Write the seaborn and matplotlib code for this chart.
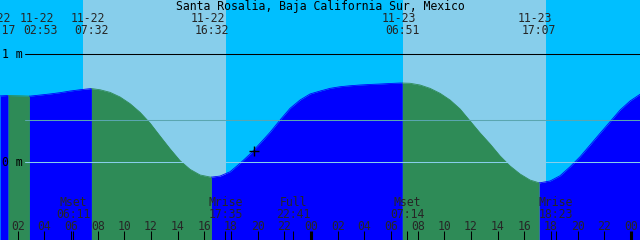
import numpy as np
import pandas as pd
import matplotlib
matplotlib.use("Agg")
import matplotlib.pyplot as plt
import matplotlib.transforms as mtransforms
import seaborn as sns

# ---------------- data (hours counted from 11-22 00:00, heights in metres) -------------
TITLE = "Santa Rosalia, Baja California Sur, Mexico"

curve_hours = [0.68, 1.43, 2.18, 2.93, 3.68, 4.43, 5.18, 5.93, 6.68, 7.43, 8.18, 8.93,
               9.68, 10.43, 11.18, 11.93, 12.68, 13.43, 14.18, 14.93, 15.68, 16.43, 17.18,
               17.93, 18.68, 19.43, 20.18, 20.93, 21.68, 22.43, 23.18, 23.93, 24.68, 25.43,
               26.18, 26.93, 27.68, 28.43, 29.18, 29.93, 30.68, 31.43, 32.18, 32.93, 33.68,
               34.43, 35.18, 35.93, 36.68, 37.43, 38.18, 38.93, 39.68, 40.43, 41.18, 41.93,
               42.68, 43.43, 44.18, 44.93, 45.68, 46.43, 47.18, 47.93, 48.68]
curve_level = [0.612, 0.615, 0.613, 0.610, 0.620, 0.630, 0.642, 0.657, 0.669, 0.679, 0.669,
               0.645, 0.602, 0.540, 0.460, 0.360, 0.240, 0.122, 0.012, -0.068, -0.120,
               -0.139, -0.130, -0.090, -0.012, 0.074, 0.173, 0.275, 0.389, 0.497, 0.574,
               0.630, 0.657, 0.682, 0.697, 0.706, 0.713, 0.718, 0.722, 0.727, 0.731, 0.729,
               0.713, 0.682, 0.636, 0.574, 0.491, 0.380, 0.269, 0.167, 0.056, -0.037,
               -0.111, -0.167, -0.192, -0.176, -0.127, -0.044, 0.049, 0.157, 0.266, 0.373,
               0.481, 0.565, 0.627]

extreme_hours = [1.283, 2.883, 7.533, 16.533, 30.850, 41.117]
extreme_level = [0.616, 0.610, 0.680, -0.140, 0.731, -0.193]
extreme_dates = ["11-22", "11-22", "11-22", "11-22", "11-23", "11-23"]
extreme_times = ["01:17", "02:53", "07:32", "16:32", "06:51", "17:07"]

sunrise_hours = [6.90, 30.93]
sunset_hours = [17.62, 41.62]

moon_hours = [6.183, 17.583, 22.683, 31.233, 42.383]
moon_names = ["Mset", "Mrise", "Full", "Mset", "Mrise"]
moon_times = ["06:11", "17:35", "22:41", "07:14", "18:23"]

hour_ticks = [2, 4, 6, 8, 10, 12, 14, 16, 18, 20, 22, 24,
              26, 28, 30, 32, 34, 36, 38, 40, 42, 44, 46, 48]
hour_labels = ["02", "04", "06", "08", "10", "12", "14", "16", "18", "20", "22", "00",
               "02", "04", "06", "08", "10", "12", "14", "16", "18", "20", "22", "00"]

level_marks = [1.0, 0.0]
level_labels = ["1 m", "0 m"]
mean_level = 0.389

now_hour = 19.72
now_level = 0.105

# ---------------- style ------------------------------------------------------------------
DAY = "#87CEEB"
NIGHT = "#00BFFF"
FLOOD = "#0000FF"
EBB = "#2E8B57"

W, H, DPI = 640, 240, 100
T0 = 0.675
SPAN = 48.0
YTOP, YBOT = 1.5, -0.7222

sns.set_style("white")
plt.rcParams["font.family"] = ["DejaVu Sans Mono", "DejaVu Sans"]
FS = 8.3

fig = plt.figure(figsize=(W / DPI, H / DPI), dpi=DPI)
ax = fig.add_axes([0, 0, 1, 1])
ax.set_xlim(T0, T0 + SPAN)
ax.set_ylim(YBOT, YTOP)
ax.axis("off")

# sky
ax.axvspan(T0, T0 + SPAN, color=NIGHT, lw=0, zorder=0)
for a, b in zip(sunrise_hours, sunset_hours):
    ax.axvspan(a, b, color=DAY, lw=0, zorder=0.5)

# water: split at extremes, colour by rising (flood) / falling (ebb)
df = pd.DataFrame({"t": curve_hours + extreme_hours, "h": curve_level + extreme_level})
df = df.sort_values("t").reset_index(drop=True)
bounds = [df.t.iloc[0]] + extreme_hours + [df.t.iloc[-1]]
for a, b in zip(bounds[:-1], bounds[1:]):
    seg = df[(df.t >= a - 1e-9) & (df.t <= b + 1e-9)]
    rising = seg.h.iloc[-1] >= seg.h.iloc[0]
    col = FLOOD if rising else EBB
    ax.fill_between(seg.t, YBOT, seg.h, color=col, lw=0, zorder=1)
    sns.lineplot(x=seg.t.values, y=seg.h.values, ax=ax, color=col, lw=0.6,
                 sort=False, zorder=1.1, legend=False)

# horizontal reference lines
xstart = 25 / W
ax.axhline(mean_level, xmin=xstart, xmax=1, color="#5aa6b0", lw=0.75, zorder=2)
ax.axhline(0.0, xmin=xstart, xmax=1, color=DAY, lw=0.75, zorder=2)
ax.axhline(1.0, xmin=xstart, xmax=1, color="black", lw=0.75, zorder=3)

trans = mtransforms.blended_transform_factory(ax.transData, ax.transAxes)

def fy(py):
    return 1 - py / H

# level labels
for lv, lab in zip(level_marks, level_labels):
    ax.text(1.5 / W, lv, lab, transform=mtransforms.blended_transform_factory(ax.transAxes, ax.transData),
            ha="left", va="center", fontsize=FS, color="black", zorder=4)

# title
ax.text(0.5, fy(10), TITLE, transform=ax.transAxes, ha="center", va="baseline",
        fontsize=FS, color="black", zorder=4)

# extreme labels (two crowded ones nudged apart, as in the reference)
nudge_px = [-10, 11, 0, 0, 0, 0]
for t, d, s, n in zip(extreme_hours, extreme_dates, extreme_times, nudge_px):
    off_t = mtransforms.offset_copy(trans, fig=fig, x=n * 72 / DPI, y=0, units="points")
    off_d = mtransforms.offset_copy(trans, fig=fig, x=(n - 4) * 72 / DPI, y=0, units="points")
    ax.text(t, fy(22), d, transform=off_d, ha="center", va="baseline", fontsize=FS, zorder=4)
    ax.text(t, fy(34), s, transform=off_t, ha="center", va="baseline", fontsize=FS, zorder=4)

# hour ticks + labels
for t, lab in zip(hour_ticks, hour_labels):
    lw = 2.2 if lab == "00" else 0.75
    ax.vlines(t, 0, 9.5 / H, transform=trans, color="black", lw=lw, zorder=4)
    ax.text(t, fy(230), lab, transform=trans, ha="center", va="baseline", fontsize=FS, zorder=4)

# moon events
for t, nm, s in zip(moon_hours, moon_names, moon_times):
    ax.vlines(t, 0, 9.5 / H, transform=trans, color="black", lw=0.75, zorder=4)
    ax.text(t, fy(206), nm, transform=trans, ha="center", va="baseline", fontsize=FS, zorder=4)
    ax.text(t, fy(218), s, transform=trans, ha="center", va="baseline", fontsize=FS, zorder=4)

# current time marker
ax.plot([now_hour], [now_level], marker="+", color="black", markersize=7, mew=1.0, zorder=5)

fig.savefig("out.png", dpi=DPI)
